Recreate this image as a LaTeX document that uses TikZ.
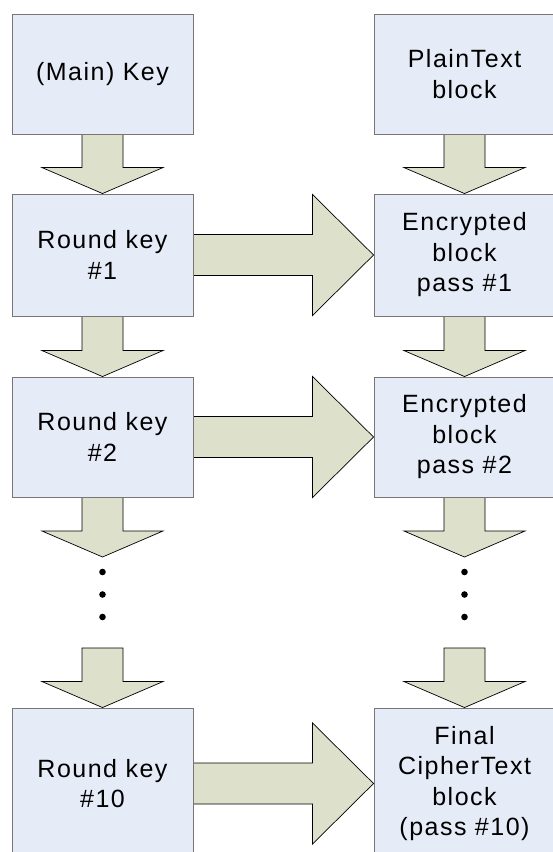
\documentclass[tikz,border=0pt]{standalone}
\usepackage{fontspec}
\setmainfont{Liberation Sans}[LetterSpace=6]
\usetikzlibrary{calc,backgrounds}

\definecolor{boxfill}{RGB}{230,236,247}
\definecolor{boxline}{RGB}{118,118,118}
\definecolor{arrowfill}{RGB}{221,224,202}

\tikzset{
  stage/.style={draw=boxline, fill=boxfill, line width=0.9pt,
    minimum width=181pt, inner sep=0pt, align=center,
    font=\fontsize{25}{30.5}\selectfont},
  fatarrow/.style={draw=black, fill=arrowfill, line width=0.7pt, line join=miter},
  bigdot/.style={circle, fill=black, minimum size=6.6pt, inner sep=0pt}
}

% block arrow pointing down, from the bottom of one item to the top of the next
\newcommand\fatdown[2]{%
  \draw[fatarrow] let \p1=(#1), \p2=(#2) in
    (\x1-20.5pt,\y1) -- (\x1+20.5pt,\y1) -- (\x1+20.5pt,\y2+26pt)
    -- (\x1+60.5pt,\y2+26pt) -- (\x1,\y2) -- (\x1-60.5pt,\y2+26pt)
    -- (\x1-20.5pt,\y2+26pt) -- cycle;}
% block arrow pointing right, from a round key into the data block
\newcommand\fatright[2]{%
  \draw[fatarrow] let \p1=(#1), \p2=(#2) in
    (\x1,\y1+20.5pt) -- (\x2-61pt,\y1+20.5pt) -- (\x2-61pt,\y1+60.5pt)
    -- (\x2,\y1) -- (\x2-61pt,\y1-60.5pt) -- (\x2-61pt,\y1-20.5pt)
    -- (\x1,\y1-20.5pt) -- cycle;}

\begin{document}
\begin{tikzpicture}[x=1pt,y=-1pt]
  \useasboundingbox (0,0) rectangle (552,852);

  % key schedule (left) and data path (right)
  \node[stage, minimum height=120pt] (key)   at (102.5,74)    {(Main) Key};
  \node[stage, minimum height=120pt] (plain) at (464.5,74)    {PlainText\\block};
  \node[stage, minimum height=122pt] (rk1)   at (102.5,255)   {Round key\\\#1};
  \node[stage, minimum height=122pt] (enc1)  at (464.5,255)   {Encrypted\\block\\pass \#1};
  \node[stage, minimum height=120pt] (rk2)   at (102.5,437)   {Round key\\\#2};
  \node[stage, minimum height=120pt] (enc2)  at (464.5,437)   {Encrypted\\block\\pass \#2};
  \node[stage, minimum height=151pt] (rk10)  at (102.5,783.5) {Round key\\\#10};
  \node[stage, minimum height=151pt] (final) at (464.5,783.5) {Final\\CipherText\\block\\(pass \#10)};

  % elided rounds
  \node[bigdot] (ldotA) at (102.5,572) {};
  \node[bigdot] (ldotB) at (102.5,594.5) {};
  \node[bigdot] (ldotC) at (102.5,617) {};
  \node[bigdot] (rdotA) at (464.5,572) {};
  \node[bigdot] (rdotB) at (464.5,594.5) {};
  \node[bigdot] (rdotC) at (464.5,617) {};
  \coordinate (lgapIn)  at (102.5,557);
  \coordinate (lgapOut) at (102.5,648);
  \coordinate (rgapIn)  at (464.5,557);
  \coordinate (rgapOut) at (464.5,648);

  \begin{scope}[on background layer]
    \fill[white] (0,0) rectangle (552,852);
    \fatdown{key.south}{rk1.north}
    \fatdown{rk1.south}{rk2.north}
    \fatdown{rk2.south}{lgapIn}
    \fatdown{lgapOut}{rk10.north}
    \fatdown{plain.south}{enc1.north}
    \fatdown{enc1.south}{enc2.north}
    \fatdown{enc2.south}{rgapIn}
    \fatdown{rgapOut}{final.north}
    \fatright{rk1.east}{enc1.west}
    \fatright{rk2.east}{enc2.west}
    \fatright{rk10.east}{final.west}
  \end{scope}
\end{tikzpicture}
\end{document}
